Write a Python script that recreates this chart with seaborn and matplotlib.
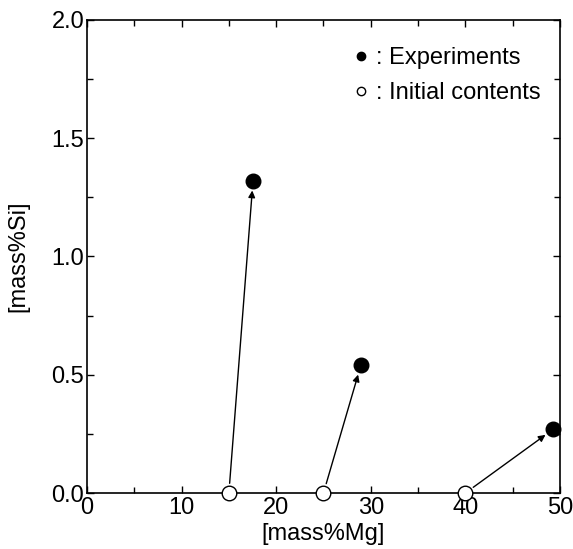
import seaborn as sns
import pandas as pd
import matplotlib.pyplot as plt
from matplotlib.lines import Line2D
from matplotlib.ticker import MultipleLocator

sns.set_style('ticks')
plt.rcParams['font.family'] = ['Liberation Sans', 'DejaVu Sans']
plt.rcParams.update({'font.size': 17, 'text.color': 'black',
                     'axes.labelcolor': 'black', 'xtick.color': 'black',
                     'ytick.color': 'black'})

# initial contents -> experiment results
mg_init = [15, 25, 40]
si_init = [0.0, 0.0, 0.0]
mg_exp = [17.55, 28.95, 49.3]
si_exp = [1.32, 0.54, 0.27]

init = pd.DataFrame({'Mg': mg_init, 'Si': si_init})
exp = pd.DataFrame({'Mg': mg_exp, 'Si': si_exp})

fig = plt.figure(figsize=(5.73, 5.49), dpi=100)
ax = fig.add_axes([0.1518, 0.102, 0.8255, 0.8616])

for x0, y0, x1, y1 in zip(mg_init, si_init, mg_exp, si_exp):
    ax.annotate('', xy=(x1, y1), xytext=(x0, y0),
                arrowprops=dict(arrowstyle='-|>', color='black', lw=1,
                                mutation_scale=10, shrinkA=7, shrinkB=7),
                zorder=2)

sns.scatterplot(data=exp, x='Mg', y='Si', ax=ax, color='black', s=110,
                edgecolor='black', linewidth=1, zorder=3, clip_on=False)
sns.scatterplot(data=init, x='Mg', y='Si', ax=ax, color='white', s=110,
                edgecolor='black', linewidth=1, zorder=3, clip_on=False)

ax.set_xlim(0, 50)
ax.set_ylim(0, 2.0)
ax.xaxis.set_major_locator(MultipleLocator(10))
ax.xaxis.set_minor_locator(MultipleLocator(5))
ax.yaxis.set_major_locator(MultipleLocator(0.5))
ax.yaxis.set_minor_locator(MultipleLocator(0.25))
ax.yaxis.set_major_formatter(plt.FormatStrFormatter('%.1f'))
ax.tick_params(which='both', direction='in', top=True, right=True,
               width=1, color='black', labelsize=17)
ax.tick_params(axis='x', pad=3)
ax.tick_params(axis='y', pad=2)
ax.tick_params(which='major', length=5)
ax.tick_params(which='minor', length=4)
for s in ax.spines.values():
    s.set_linewidth(1.2)
    s.set_color('black')

ax.set_xlabel('[mass%Mg]', fontsize=17, labelpad=3)
ax.set_ylabel('[mass%Si]', fontsize=17, labelpad=16)

handles = [Line2D([], [], marker='o', ls='none', color='black', markersize=6),
           Line2D([], [], marker='o', ls='none', markerfacecolor='white',
                  markeredgecolor='black', markersize=6)]
ax.legend(handles, [': Experiments', ': Initial contents'], loc='upper right',
          bbox_to_anchor=(0.979, 0.962), frameon=False, fontsize=17,
          handletextpad=0.05, handlelength=1.2, borderaxespad=0,
          labelspacing=0.55)

fig.savefig('out.png', dpi=100)
